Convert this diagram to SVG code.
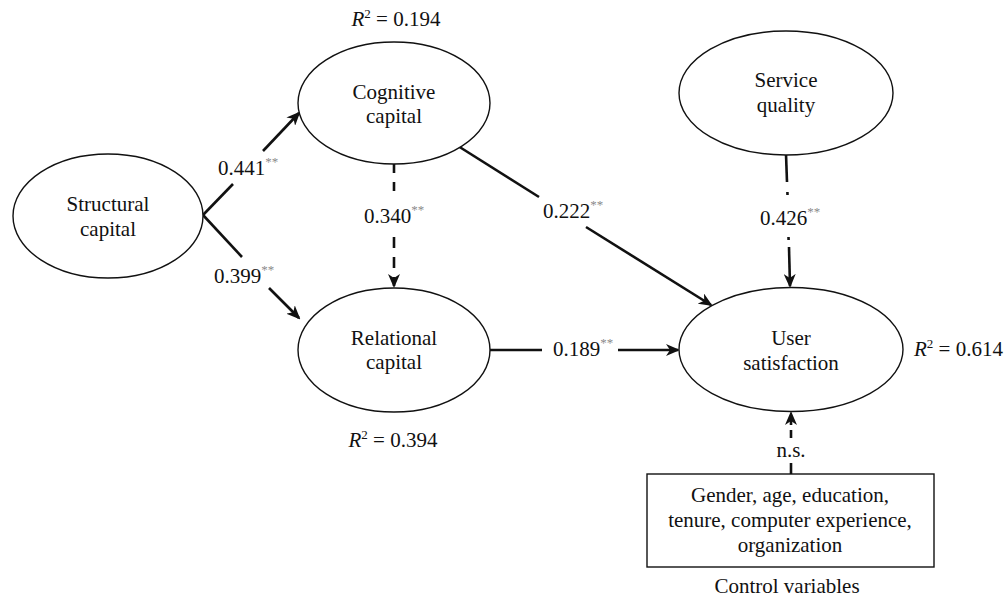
<svg xmlns="http://www.w3.org/2000/svg" width="1008" height="598" viewBox="0 0 1008 598">
<style>
.t{font-family:"Liberation Serif","Times New Roman",serif;font-size:21px;fill:#111;text-anchor:middle}
.s{font-size:13px;fill:#8a8a8a}
.n{fill:#fff;stroke:#111;stroke-width:1.4}
.c{fill:none;stroke:#111;stroke-width:2.6}
.d{stroke-dasharray:10,8}
</style>
<defs>
<marker id="ah" viewBox="0 0 14 12" refX="12" refY="6" markerWidth="14" markerHeight="12" markerUnits="userSpaceOnUse" orient="auto">
<path d="M0,0 L14,6 L0,12 L4,6 Z" fill="#111"/>
</marker>
</defs>
<rect width="1008" height="598" fill="#fff"/>
<g id="connectors">
<path class="c" d="M203,215 L233,184"/>
<path class="c" d="M263,151 L299,113" marker-end="url(#ah)"/>
<path class="c" d="M203,215 L242,257"/>
<path class="c" d="M269,288 L299,318" marker-end="url(#ah)"/>
<path class="c" d="M394,164 L394,196" stroke-dasharray="9,9"/>
<path class="c" d="M394,237 L394,286" stroke-dasharray="11,9" marker-end="url(#ah)"/>
<path class="c" d="M458,146 L539,197"/>
<path class="c" d="M586,227 L711,305" marker-end="url(#ah)"/>
<path class="c" d="M489,350 L542,350"/>
<path class="c" d="M618,350 L678,350" marker-end="url(#ah)"/>
<path class="c" d="M786,154 L787,182"/>
<path class="c" d="M787.4,192 L787.5,195"/>
<path class="c" d="M788.5,237 L788.6,240"/>
<path class="c" d="M789,247 L790,286" marker-end="url(#ah)"/>
<path class="c" d="M791,474 L791,463"/>
<path class="c" d="M791,438 L791,413" stroke-dasharray="8,5" marker-end="url(#ah)"/>
</g>
<g id="labels">
<text class="t" x="248" y="175">0.441<tspan class="s" dy="-9">**</tspan></text>
<text class="t" x="244" y="283">0.399<tspan class="s" dy="-9">**</tspan></text>
<text class="t" x="394" y="223">0.340<tspan class="s" dy="-9">**</tspan></text>
<text class="t" x="573" y="218">0.222<tspan class="s" dy="-9">**</tspan></text>
<text class="t" x="583" y="356">0.189<tspan class="s" dy="-9">**</tspan></text>
<text class="t" x="790" y="225">0.426<tspan class="s" dy="-9">**</tspan></text>
<text class="t" x="791" y="457">n.s.</text>
</g>
<g id="structural">
<ellipse class="n" cx="108" cy="216" rx="95" ry="62"/>
<text class="t" x="108" y="211">Structural</text>
<text class="t" x="108" y="236">capital</text>
</g>
<g id="cognitive">
<ellipse class="n" cx="394" cy="103" rx="96" ry="61"/>
<text class="t" x="394" y="99">Cognitive</text>
<text class="t" x="394" y="123">capital</text>
<text class="t" x="396" y="26"><tspan font-style="italic">R</tspan><tspan font-size="13" dy="-8">2</tspan><tspan dy="8"> = 0.194</tspan></text>
</g>
<g id="relational">
<ellipse class="n" cx="394" cy="350" rx="96" ry="62"/>
<text class="t" x="394" y="345">Relational</text>
<text class="t" x="394" y="369">capital</text>
<text class="t" x="393" y="447"><tspan font-style="italic">R</tspan><tspan font-size="13" dy="-8">2</tspan><tspan dy="8"> = 0.394</tspan></text>
</g>
<g id="service">
<ellipse class="n" cx="786" cy="93" rx="107" ry="62"/>
<text class="t" x="786" y="87">Service</text>
<text class="t" x="786" y="112">quality</text>
</g>
<g id="user">
<ellipse class="n" cx="791" cy="349.5" rx="112" ry="62"/>
<text class="t" x="791" y="345">User</text>
<text class="t" x="791" y="370">satisfaction</text>
<text class="t" x="914" y="356" text-anchor="start" style="text-anchor:start"><tspan font-style="italic">R</tspan><tspan font-size="13" dy="-8">2</tspan><tspan dy="8"> = 0.614</tspan></text>
</g>
<g id="controls">
<rect class="n" x="647" y="474" width="287" height="93"/>
<text class="t" x="790" y="502">Gender, age, education,</text>
<text class="t" x="790" y="527">tenure, computer experience,</text>
<text class="t" x="790" y="552">organization</text>
<text class="t" x="787" y="593">Control variables</text>
</g>
</svg>
